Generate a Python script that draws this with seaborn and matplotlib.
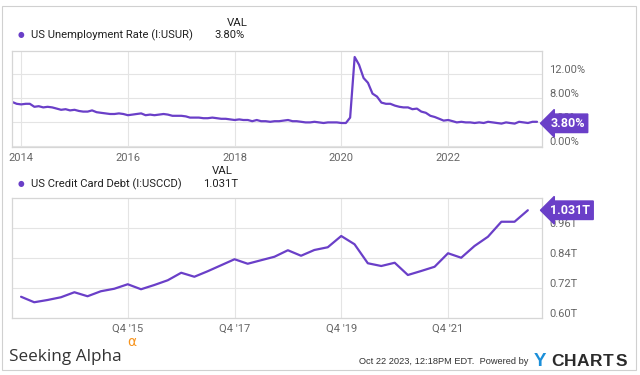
import numpy as np
import pandas as pd
import matplotlib
matplotlib.use("Agg")
import matplotlib.pyplot as plt
import matplotlib.transforms as mtransforms
from matplotlib.patches import Rectangle
import seaborn as sns

# US unemployment rate, monthly, Nov 2013 - Sep 2023 (%)
unemp_start = "2013-11-01"
unemp_values = [
    7.35, 7.05,
    6.95, 7.05, 7.05, 6.55, 6.65, 6.45, 6.55, 6.45, 6.25, 6.05, 6.15, 5.95,
    6.05, 5.85, 5.75, 5.75, 5.95, 5.65, 5.55, 5.45, 5.35, 5.35, 5.45, 5.35,
    5.15, 5.25, 5.35, 5.45, 5.15, 5.25, 5.15, 5.25, 5.35, 5.25, 5.05, 5.05,
    5.05, 4.95, 4.75, 4.75, 4.75, 4.65, 4.65, 4.75, 4.65, 4.55, 4.55, 4.45,
    4.35, 4.45, 4.35, 4.35, 4.15, 4.35, 4.15, 4.15, 4.05, 4.15, 4.15, 4.25,
    4.35, 4.15, 4.15, 4.05, 3.95, 3.95, 4.05, 3.95, 3.85, 3.95, 3.95, 3.95,
    3.85, 3.85, 4.75, 14.85, 13.55, 11.35, 10.55, 8.75, 8.25, 7.25, 7.05, 7.05,
    6.75, 6.55, 6.45, 6.45, 6.15, 6.25, 5.75, 5.55, 5.05, 4.85, 4.55, 4.25,
    4.35, 4.15, 3.95, 4.05, 3.95, 3.95, 3.85, 3.95, 3.85, 4.05, 3.95, 3.85,
    3.75, 3.95, 3.85, 3.75, 4.05, 3.95, 3.85, 4.05, 4.05,
]
unemp_last = 3.80

# US credit card debt, quarterly, Q4 2013 - Q2 2023 (trillions)
debt_start = "2013-12-31"
debt_values = [
    0.685,
    0.663, 0.672, 0.683, 0.703,
    0.687, 0.707, 0.717, 0.735,
    0.715, 0.732, 0.751, 0.781,
    0.765, 0.787, 0.811, 0.835,
    0.817, 0.831, 0.845, 0.871,
    0.849, 0.872, 0.883, 0.928,
    0.895, 0.819, 0.808, 0.821,
    0.772, 0.788, 0.805, 0.859,
    0.841, 0.888, 0.925, 0.985,
    0.985, 1.031,
]
debt_last = 1.031

unemp_ticks = [0, 4, 8, 12]
unemp_tick_labels = ["0.00%", "4.00%", "8.00%", "12.00%"]
debt_ticks = [0.60, 0.72, 0.84, 0.96]
debt_tick_labels = ["0.60T", "0.72T", "0.84T", "0.96T"]
year_ticks = ["2014", "2016", "2018", "2020", "2022"]
quarter_ticks = ["2015-12-31", "2017-12-31", "2019-12-31", "2021-12-31"]
quarter_labels = ["Q4 '15", "Q4 '17", "Q4 '19", "Q4 '21"]

unemp = pd.DataFrame({
    "date": pd.date_range(unemp_start, periods=len(unemp_values), freq="MS"),
    "value": unemp_values,
})
debt = pd.DataFrame({
    "date": pd.date_range(debt_start, periods=len(debt_values), freq="QE"),
    "value": debt_values,
})

sns.set_theme(style="white")
plt.rcParams["font.family"] = ["Roboto", "DejaVu Sans"]

PURPLE = "#6a3fc8"
GRID = "#e4e4e4"
FRAME = "#d6d6d6"
TICK = "#666666"
DARK = "#222222"

fig = plt.figure(figsize=(6.4, 3.75), dpi=100)
fig.patch.set_facecolor("white")
fig.patches.append(Rectangle((2 / 640, 1 - 370 / 375), 634 / 640, 364 / 375,
                             transform=fig.transFigure, fill=False,
                             edgecolor="#d0d0d0", linewidth=0.8))

xlim = (pd.Timestamp("2013-10-30"), pd.Timestamp("2023-10-05"))
ax1 = fig.add_axes([12 / 640, 1 - 147 / 375, 530 / 640, 96 / 375])
ax2 = fig.add_axes([12 / 640, 1 - 318 / 375, 530 / 640, 120 / 375])

sns.lineplot(data=unemp, x="date", y="value", ax=ax1, color=PURPLE, linewidth=1.6)
sns.lineplot(data=debt, x="date", y="value", ax=ax2, color=PURPLE, linewidth=1.6)

label_shift = mtransforms.ScaledTranslation(0, 5 / 100, fig.dpi_scale_trans)

for ax, ylim, yt, ytl, xt, xtl in [
    (ax1, (-0.15, 15.85), unemp_ticks, unemp_tick_labels,
     pd.to_datetime(year_ticks), year_ticks),
    (ax2, (0.60, 1.08), debt_ticks, debt_tick_labels,
     pd.to_datetime(quarter_ticks), quarter_labels),
]:
    ax.set_xlim(xlim)
    ax.set_ylim(ylim)
    ax.set_xticks(xt)
    ax.set_xticklabels(xtl)
    ax.set_yticks(yt)
    ax.set_yticklabels(ytl)
    ax.yaxis.tick_right()
    ax.grid(True, color=GRID, linewidth=0.8)
    ax.set_xlabel("")
    ax.set_ylabel("")
    ax.tick_params(axis="both", length=0, labelsize=8, colors=TICK)
    ax.tick_params(axis="y", pad=5)
    ax.tick_params(axis="x", pad=4)
    for lab in ax.get_yticklabels():
        lab.set_transform(lab.get_transform() + label_shift)
    for s in ax.spines.values():
        s.set_visible(True)
        s.set_color(FRAME)
        s.set_linewidth(0.9)

# value tags on the right
tag_style = dict(color="white", fontsize=9, fontweight="bold", va="center", ha="left",
                 clip_on=False, zorder=10,
                 bbox=dict(boxstyle="larrow,pad=0.22", fc=PURPLE, ec=PURPLE))
ax1.text(1.016, unemp_last, "3.80%",
         transform=mtransforms.blended_transform_factory(ax1.transAxes, ax1.transData),
         **tag_style)
ax2.text(1.016, debt_last, "1.031T",
         transform=mtransforms.blended_transform_factory(ax2.transAxes, ax2.transData),
         **tag_style)

# legend headers
def fy(y):
    return 1 - y / 375

fig.text(237 / 640, fy(23), "VAL", ha="center", va="center", fontsize=8.2, color=DARK)
fig.text(21 / 640, fy(35), "\u25CF", ha="center", va="center", fontsize=5.5, color=PURPLE)
fig.text(31 / 640, fy(35), "US Unemployment Rate (I:USUR)", ha="left", va="center",
         fontsize=8.1, color=DARK)
fig.text(214 / 640, fy(35), "3.80%", ha="left", va="center", fontsize=8.1, color=DARK)

fig.text(222 / 640, fy(171), "VAL", ha="center", va="center", fontsize=8.2, color=DARK)
fig.text(21 / 640, fy(184), "\u25CF", ha="center", va="center", fontsize=5.5, color=PURPLE)
fig.text(31 / 640, fy(184), "US Credit Card Debt (I:USCCD)", ha="left", va="center",
         fontsize=8.1, color=DARK)
fig.text(203 / 640, fy(184), "1.031T", ha="left", va="center", fontsize=8.1, color=DARK)

# footer
fig.text(9 / 640, fy(357), "Seeking Alpha", ha="left", va="center", fontsize=12.3,
         color="#333333", family=["Open Sans", "DejaVu Sans"])
fig.text(132 / 640, fy(342), "\u03B1", ha="center", va="center", fontsize=10,
         color="#f7941d", family=["DejaVu Sans"])
fig.text(359 / 640, fy(362), "Oct 22 2023, 12:18PM EDT.  Powered by", ha="left",
         va="center", fontsize=6.7, color="#333333", family=["Liberation Sans", "DejaVu Sans"])
fig.text(540 / 640, fy(362), "Y", ha="center", va="center", fontsize=13.5,
         fontweight="bold", color="#1b8fd9", family=["Liberation Sans", "DejaVu Sans"])
for i, ch in enumerate("CHARTS"):
    fig.text((557 + i * 12.9) / 640, fy(362), ch, ha="center", va="center",
             fontsize=12.5, fontweight="bold", color="#2b2b2b",
             family=["Liberation Sans", "DejaVu Sans"])

fig.savefig("out.png", dpi=100, facecolor="white")
